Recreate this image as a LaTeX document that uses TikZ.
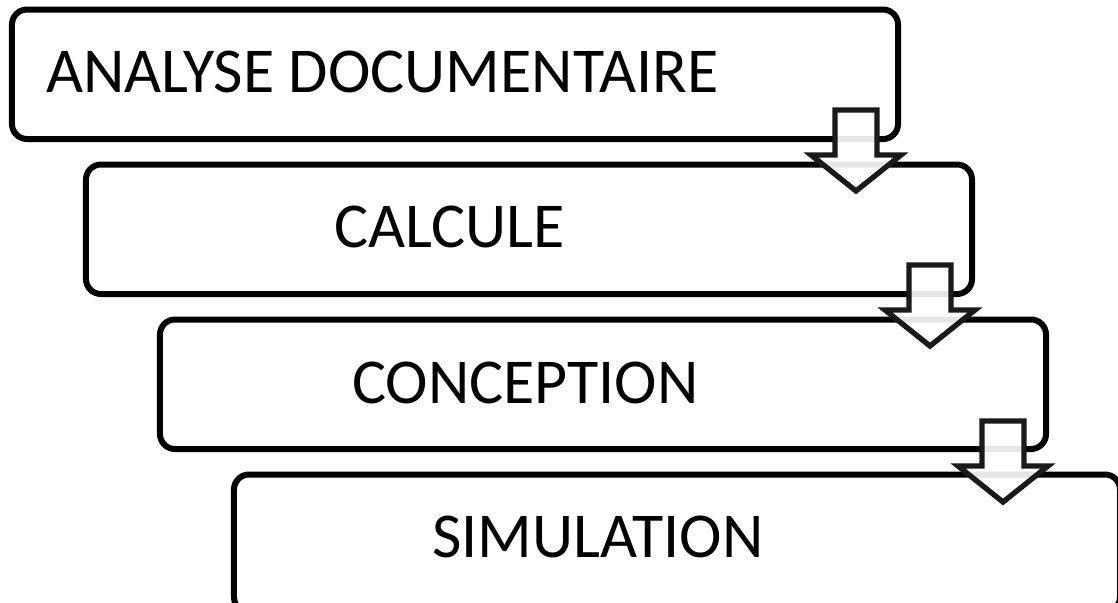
\documentclass[tikz,border=0pt]{standalone}
\usepackage{fontspec}
\setmainfont{Carlito}
\usetikzlibrary{positioning}
\definecolor{stepline}{HTML}{000000}
\definecolor{arrowline}{HTML}{1A1A1A}

\tikzset{
  stepbox/.style={draw=stepline, fill=white, line width=0.18cm, rounded corners=0.45cm,
    minimum width=26.58cm, minimum height=3.885cm, inner sep=0pt},
  steplabel/.style={anchor=base west, inner sep=0pt, font=\fontsize{54.6}{64}\selectfont},
  blockarrow/.style={draw=arrowline, fill=white, fill opacity=0.9, line width=0.16cm, miter limit=4}
}

\begin{document}
\begin{tikzpicture}[x=0.03cm, y=-0.03cm]

% Frame
\useasboundingbox (0,0) rectangle (1118,602);
\clip (0,0) rectangle (1118,602);

% Steps
\node[stepbox] (analyse) at (455,74.25) {};
\node[stepbox] (calcule) at (529,229.25) {};
\node[stepbox] (conception) at (603,384.25) {};
\node[stepbox, minimum height=4.125cm] (simulation) at (677,543.25) {};

% Labels
\node[steplabel] (tanalyse) at (46,92) {ANALYSE DOCUMENTAIRE};
\node[steplabel] (tcalcule) at (334,247) {CALCULE};
\node[steplabel] (tconception) at (352,403) {CONCEPTION};
\node[steplabel] (tsimulation) at (432,557) {SIMULATION};

% Block arrows
\foreach \tx/\ty in {856/191, 930/346, 1003/502}{
  \draw[blockarrow] (\tx,\ty) -- ++(-45,-36) -- ++(24,0) -- ++(0,-45) -- ++(42,0)
    -- ++(0,45) -- ++(24,0) -- cycle;
}

\end{tikzpicture}
\end{document}
